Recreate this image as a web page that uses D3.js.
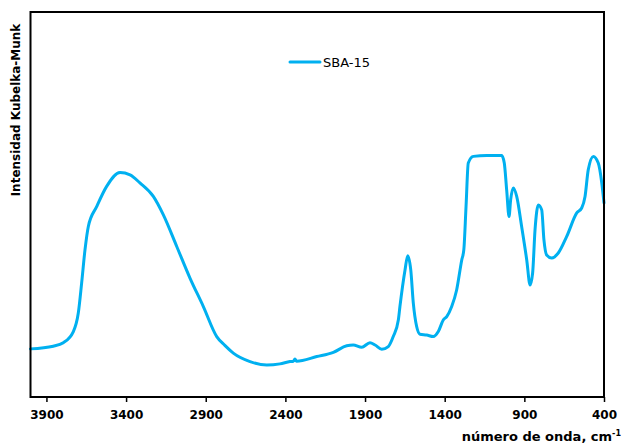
<!DOCTYPE html>
<html>
<head>
<meta charset="utf-8">
<script src="https://cdn.jsdelivr.net/npm/d3@7"></script>
<style>
  html, body { margin: 0; padding: 0; background: #fff; }
  svg { display: block; }
</style>
</head>
<body>
<script>
// ---- data ----
const seriesName = "SBA-15";
const wavenumber = [4000, 3857, 3794, 3731, 3700, 3679, 3658, 3637, 3584, 3522, 3438, 3375, 3313, 3229, 3166, 3082, 2999, 2915, 2831, 2780, 2727, 2622, 2517, 2434, 2371, 2350, 2340, 2330, 2203, 2099, 2015, 1974, 1921, 1869, 1837, 1795, 1754, 1723, 1691, 1681, 1649, 1632, 1613, 1597, 1576, 1555, 1513, 1472, 1440, 1409, 1387, 1356, 1325, 1293, 1280, 1266, 1252, 1220, 1136, 1042, 1026, 1011, 996, 986, 969, 948, 917, 885, 864, 848, 833, 812, 791, 777, 760, 728, 687, 634, 571, 540, 519, 499, 467, 436, 414, 400];
const intensity = [12.5, 13.2, 14.1, 17.0, 21.8, 29.6, 38.2, 44.3, 49.5, 54.7, 58.3, 57.7, 55.6, 52.1, 47.3, 39.1, 30.9, 23.5, 15.7, 13.4, 11.4, 9.2, 8.3, 8.6, 9.2, 9.3, 9.9, 9.3, 10.5, 11.6, 13.3, 13.5, 12.9, 14.1, 13.5, 12.4, 13.1, 15.7, 20.0, 23.5, 33.0, 36.7, 33.0, 24.4, 18.3, 16.3, 16.1, 15.7, 17.0, 20.0, 20.9, 23.5, 27.8, 35.6, 38.2, 49.5, 60.8, 62.5, 62.7, 62.7, 60.8, 53.8, 46.9, 51.2, 54.3, 52.1, 44.3, 35.6, 29.1, 32.2, 43.4, 49.9, 48.6, 40.8, 36.9, 36.1, 37.4, 41.7, 47.8, 49.1, 52.1, 59.0, 62.5, 60.8, 55.6, 50.4];
const xTicks = [3900, 3400, 2900, 2400, 1900, 1400, 900, 400];
const xDomain = [4000, 400];
const yDomain = [0, 100];

const W = 624, H = 447;
const plot = { left: 30.5, right: 604, top: 12, bottom: 397 };
const color = "#00B0F0";

const svg = d3.select("body").append("svg").attr("width", W).attr("height", H);

const x = d3.scaleLinear().domain(xDomain).range([plot.left, plot.right]);
const y = d3.scaleLinear().domain(yDomain).range([plot.bottom, plot.top]);

const data = wavenumber.map((w, i) => ({ w, v: intensity[i] }));

// curve
const line = d3.line().x(d => x(d.w)).y(d => y(d.v)).curve(d3.curveMonotoneX);
svg.append("path").datum(data)
  .attr("d", line)
  .attr("fill", "none")
  .attr("stroke", color)
  .attr("stroke-width", 3)
  .attr("stroke-linejoin", "round")
  .attr("stroke-linecap", "round");

// frame
svg.append("rect")
  .attr("x", plot.left).attr("y", plot.top)
  .attr("width", plot.right - plot.left).attr("height", plot.bottom - plot.top)
  .attr("fill", "none").attr("stroke", "#000").attr("stroke-width", 2);

// x axis
const xAxis = d3.axisBottom(x).tickValues(xTicks).tickSize(5).tickPadding(8).tickFormat(d3.format("d"));
const gx = svg.append("g").attr("transform", `translate(0,${plot.bottom})`).call(xAxis);
gx.select(".domain").remove();
gx.selectAll(".tick line").attr("stroke", "#000").attr("stroke-width", 1.5);
gx.selectAll(".tick text")
  .attr("fill", "#000")
  .style("font-family", "'DejaVu Sans', sans-serif")
  .style("font-weight", "bold")
  .style("font-size", "12px");

// axis titles
const xt = svg.append("text")
  .attr("x", 621).attr("y", 441)
  .attr("text-anchor", "end")
  .style("font-family", "'DejaVu Sans', sans-serif")
  .style("font-weight", "bold")
  .style("font-size", "13px")
  .attr("fill", "#000");
xt.append("tspan").text("número de onda, cm");
xt.append("tspan").attr("dy", -5).style("font-size", "8px").text("-1");

svg.append("text")
  .attr("transform", "translate(20,110) rotate(-90)")
  .attr("text-anchor", "middle")
  .style("font-family", "'DejaVu Sans', sans-serif")
  .style("font-weight", "bold")
  .style("font-size", "12px")
  .attr("fill", "#000")
  .text("Intensidad Kubelka-Munk");

// legend
const lg = svg.append("g").attr("transform", "translate(290,62)");
lg.append("line").attr("x1", 0).attr("x2", 30).attr("y1", 0).attr("y2", 0)
  .attr("stroke", color).attr("stroke-width", 3).attr("stroke-linecap", "round");
lg.append("text").attr("x", 33).attr("y", 4.5)
  .style("font-family", "'DejaVu Sans', sans-serif")
  .style("font-size", "13px")
  .attr("fill", "#000")
  .text(seriesName);
</script>
</body>
</html>
